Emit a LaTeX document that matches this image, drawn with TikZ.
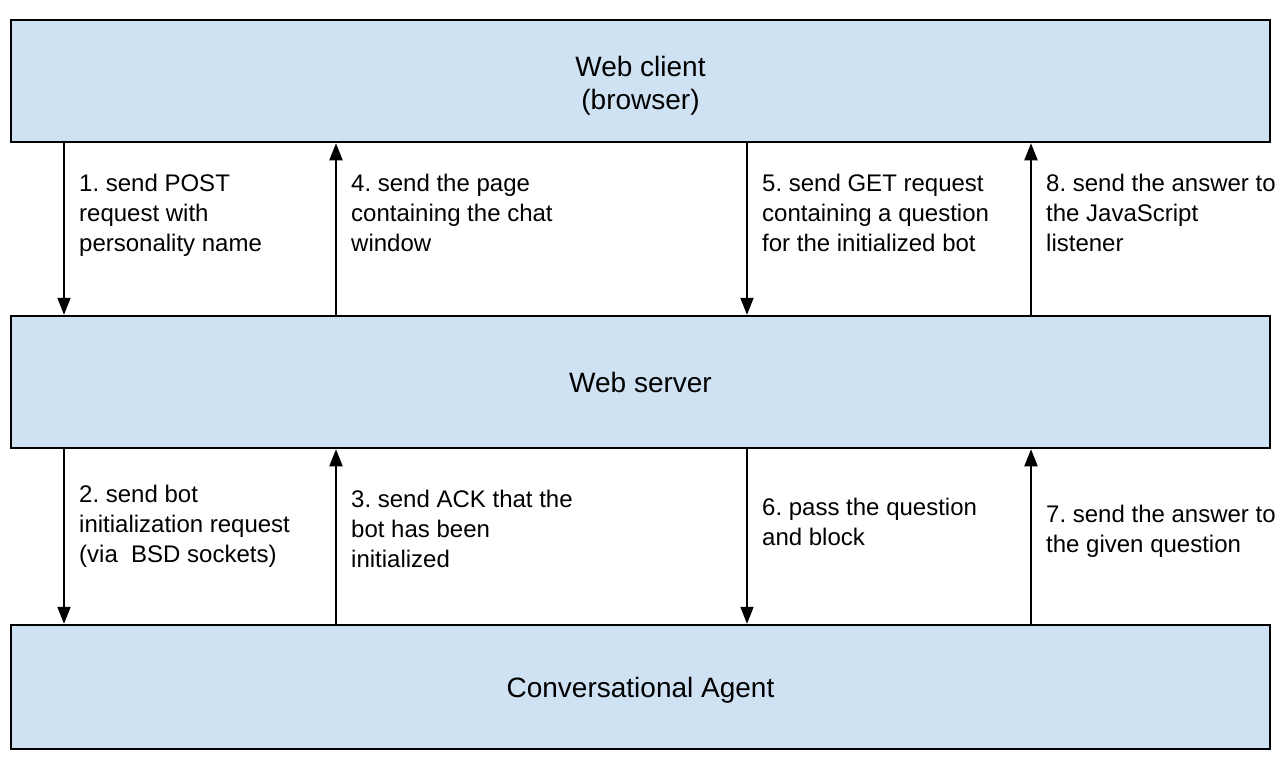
\documentclass[tikz,border=0pt]{standalone}
\usepackage{fontspec}
\setmainfont{Liberation Sans}
\usetikzlibrary{arrows.meta}
\definecolor{boxblue}{HTML}{CFE2F3}
\frenchspacing
\begin{document}
\begin{tikzpicture}[x=1pt,y=-1pt,
  layerbox/.style={draw=black, fill=boxblue, line width=2.5pt, inner sep=0pt,
    minimum width=1259pt},
  boxtext/.style={inner sep=0pt, align=center, font=\fontsize{28pt}{33pt}\selectfont},
  lbl/.style={anchor=north west, inner sep=0pt, align=left,
    font=\fontsize{24pt}{30pt}\selectfont},
  arr/.style={line width=2pt, -{Triangle[length=17pt,width=13pt]}}]
\useasboundingbox (0,0) rectangle (1280,764);
\node[layerbox, minimum height=122pt] (client) at (640.5,81) {};
\node[layerbox, minimum height=132pt] (server) at (640.5,382) {};
\node[layerbox, minimum height=124pt] (agent) at (640.5,687) {};
\node[boxtext] (clienttext) at ([yshift=-5pt]client.center) {Web client\\(browser)};
\node[boxtext] (servertext) at (server.center) {Web server};
\node[boxtext] (agenttext) at ([yshift=-3pt]agent.center) {Conversational Agent};
\coordinate (xa) at (64,0);
\coordinate (xb) at (336,0);
\coordinate (xc) at (747,0);
\coordinate (xd) at (1031,0);
% upper arrows
\draw[arr] (xa |- client.south) -- (xa |- server.north);
\draw[arr] (xb |- server.north) -- (xb |- client.south);
\draw[arr] (xc |- client.south) -- (xc |- server.north);
\draw[arr] (xd |- server.north) -- (xd |- client.south);
% lower arrows
\draw[arr] (xa |- server.south) -- (xa |- agent.north);
\draw[arr] (xb |- agent.north) -- (xb |- server.south);
\draw[arr] (xc |- server.south) -- (xc |- agent.north);
\draw[arr] (xd |- agent.north) -- (xd |- server.south);
% labels
\node[lbl] (l1) at (79,174) {1. send POST\\request with\\personality name};
\node[lbl] (l4) at (351,174) {4. send the page\\containing the chat\\window};
\node[lbl] (l5) at (762,174) {5. send GET request\\containing a question\\for the initialized bot};
\node[lbl] (l8) at (1046,174) {8. send the answer to\\the JavaScript\\listener};
\node[lbl] (l2) at (79,485) {2. send bot\\initialization request\\(via\ \ BSD sockets)};
\node[lbl] (l3) at (351,490) {3. send ACK that the\\bot has been\\initialized};
\node[lbl] (l6) at (762,498) {6. pass the question\\and block};
\node[lbl] (l7) at (1046,505) {7. send the answer to\\the given question};
\end{tikzpicture}
\end{document}
